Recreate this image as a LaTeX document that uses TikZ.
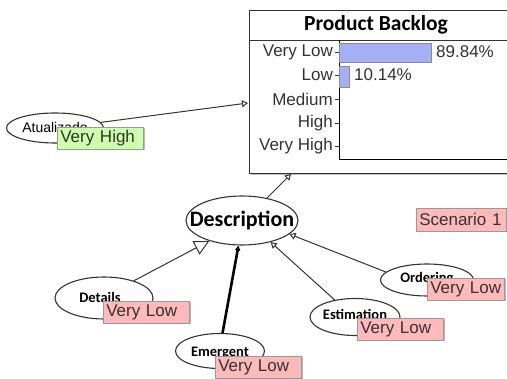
\documentclass[tikz,border=0pt]{standalone}
\usepackage{fontspec}
\setmainfont{Liberation Sans}
\newfontfamily\calib{Carlito}
\usetikzlibrary{shapes.geometric,arrows.meta,shadows}
\definecolor{pinkfill}{HTML}{FFB9B9}
\definecolor{greenfill}{HTML}{CCFFAA}
\definecolor{barfill}{HTML}{A3B0F7}
\definecolor{linec}{HTML}{333333}
\definecolor{txtc}{HTML}{333333}
\newcommand{\ovtxt}[2]{\makebox[0pt]{\raisebox{#1}[0pt][0pt]{#2}}}
\begin{document}
\begin{tikzpicture}[x=1pt,y=-1pt,
  oval/.style={ellipse, draw=linec, line width=1.1pt, fill=white, inner sep=0pt,
    font=\calib\bfseries\fontsize{14.5}{14.5}\selectfont},
  tag/.style={rectangle, anchor=north west, fill=pinkfill, draw=gray!80, line width=0.6pt,
    inner xsep=3pt, inner ysep=0pt, minimum height=22pt, text width=80pt, align=left,
    text=txtc, font=\fontsize{17}{17}\selectfont,
    drop shadow={shadow xshift=1.2pt, shadow yshift=-1.2pt, fill=gray!55, opacity=1}},
  conn/.style={draw=linec, line width=1pt, -{Triangle[open,length=6pt,width=7pt]}},
  ticklab/.style={anchor=east, inner sep=0pt, text=txtc, font=\fontsize{17}{17}\selectfont},
  vallab/.style={anchor=west, inner sep=0pt, text=txtc, font=\fontsize{17}{17}\selectfont},
  bar/.style={fill=barfill, draw=gray!90, line width=0.8pt},
]
\useasboundingbox (0,0) rectangle (507,379);
\clip (0,0) rectangle (507,379);

% Product Backlog window
\node[name=pb, draw=linec, line width=0.9pt, fill=white, anchor=north west, minimum width=270pt,
  minimum height=163pt, inner sep=0pt,
  drop shadow={shadow xshift=1.5pt, shadow yshift=-2pt, fill=gray!50, opacity=1}] at (249,10) {};
\node[name=pbtitle, font=\calib\bfseries\fontsize{21.5}{21.5}\selectfont, inner sep=0pt] at (376,25) {Product Backlog};
\draw[linec, line width=0.9pt] (249,40) -- (520,40);
\draw[black, line width=0.9pt] (339,40) -- (339,159) -- (520,159);
\draw[bar] (339,43) rectangle (431,62);
\draw[bar] (339,66) rectangle (349,87);
\foreach \yy/\lab in {52/Very Low,75/Low,99/Medium,123/High,146/Very High}{
  \draw[txtc, line width=0.8pt] (335,\yy) -- (339,\yy);
  \node[ticklab] at (333,\yy) {\lab};
}
\node[vallab, name=v1] at (436,52) {89.84\%};
\node[vallab, name=v2] at (354,75) {10.14\%};

% nodes
\node[oval, name=at, minimum width=97pt, minimum height=30pt, font=\fontsize{14}{14}\selectfont] at (55,128) {\ovtxt{-4.5pt}{Atualizado}};
\node[oval, name=desc, minimum width=112pt, minimum height=49pt, font=\calib\bfseries\fontsize{22}{22}\selectfont] at (242,220.5) {\makebox[0pt]{Description}};
\node[oval, name=det, minimum width=98pt, minimum height=42pt] at (104,298) {\hspace*{-8pt}\ovtxt{-5pt}{Details}};
\node[oval, name=eme, minimum width=89pt, minimum height=35pt] at (220,351) {\ovtxt{-6pt}{Emergent}};
\node[oval, name=est, minimum width=90pt, minimum height=37pt] at (355,317) {\ovtxt{-2.5pt}{Estimation}};
\node[oval, name=ord, minimum width=93pt, minimum height=32pt] at (427,280) {\ovtxt{-3pt}{Ordering}};

% connector ends on the window
\coordinate (pbleft) at (248,103);
\coordinate (pbbot) at (291,174);

% connectors
\draw[conn] (at.7) -- (pbleft);
\draw[conn] (desc.42) -- (pbbot);
\draw[draw=linec, line width=1pt, -{Triangle[open,length=15pt,width=15pt]}] (det.30) -- (desc.212);
\draw[draw=black, line width=2.6pt, -{Triangle[open,length=5pt,width=5pt,line width=1.5pt]}] (eme.82) -- (desc.262);
\draw[conn] (est.140) -- (desc.323);
\draw[conn] (ord.169) -- (desc.344);

% state tags
\node[tag, name=atv, fill=greenfill] at (57,127) {Very High};
\node[tag, name=detv] at (103,301) {Very Low};
\node[tag, name=emev] at (215,356) {Very Low};
\node[tag, name=estv] at (357,318) {Very Low};
\node[tag, name=ordv, text width=71pt] at (427,278) {Very Low};
\node[tag, name=scen, text width=84pt, minimum height=23pt] at (416,208) {Scenario 1};
\end{tikzpicture}
\end{document}
